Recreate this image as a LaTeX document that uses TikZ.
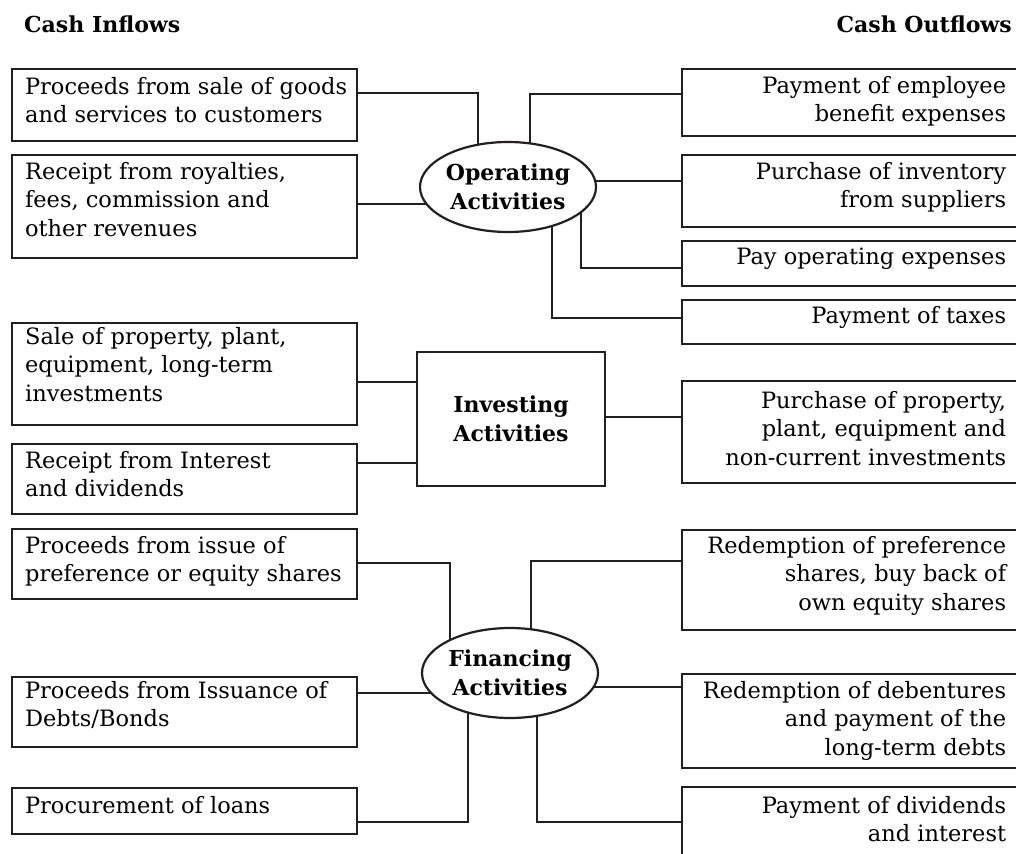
\documentclass[tikz,border=0pt]{standalone}
\usepackage{fontspec}
\setmainfont{DejaVu Serif}
\usetikzlibrary{shapes.geometric,backgrounds}
\definecolor{lc}{RGB}{35,31,32}
\newcommand\bodyfont{\fontsize{22.5pt}{28.5pt}\selectfont}
\newcommand\boldfont{\fontsize{22pt}{29pt}\selectfont\bfseries}
\newcommand\LT[1]{\parbox[t]{319pt}{\raggedright #1}}
\newcommand\RT[1]{\parbox[t]{311pt}{\raggedleft #1}}
\begin{document}
\begin{tikzpicture}[x=1pt,y=-1pt,
  box/.style={draw=lc, fill=white, rectangle, line width=2.2pt, inner xsep=13pt, inner ysep=0pt, font=\bodyfont, anchor=north west},
  hb/.style 2 args={text height=#1, text depth=#2},
  ell/.style={draw=lc, fill=white, ellipse, line width=2.2pt, minimum width=176pt, minimum height=90pt, inner sep=0pt, align=center, font=\boldfont},
  actbox/.style={draw=lc, fill=white, rectangle, line width=2.2pt, minimum width=188pt, minimum height=134pt, align=center, font=\boldfont},
  head/.style={font=\boldfont, inner sep=0pt},
  conn/.style={draw=lc, line width=2pt}
]
\useasboundingbox (0,0) rectangle (1016,853);
\clip (0,0) rectangle (1016,853);

% headers
\node[head, anchor=base west] (hin) at (24,33) {Cash Inflows};
\node[head, anchor=base east] (hout) at (1012,33) {Cash Outflows};

% left boxes
\node[box, hb={25pt}{47pt}] (l1) at (11,68) {\LT{\mbox{Proceeds from sale of goods}\\\mbox{and services to customers}}};
\node[box, hb={24pt}{79pt}] (l2) at (11,154) {\LT{\mbox{Receipt from royalties,}\\\mbox{fees, commission and}\\\mbox{other revenues}}};
\node[box, hb={21pt}{81pt}] (l4) at (11,322) {\LT{\mbox{Sale of property, plant,}\\\mbox{equipment, long-term}\\\mbox{investments}}};
\node[box, hb={24pt}{46pt}] (l5) at (11,443) {\LT{\mbox{Receipt from Interest}\\\mbox{and dividends}}};
\node[box, hb={24pt}{46pt}] (l6) at (11,528) {\LT{\mbox{Proceeds from issue of}\\\mbox{preference or equity shares}}};
\node[box, hb={21pt}{49pt}] (l7) at (11,676) {\LT{\mbox{Proceeds from Issuance of}\\\mbox{Debts/Bonds}}};
\node[box, hb={25pt}{21pt}] (l8) at (11,787) {\LT{\mbox{Procurement of loans}}};

% right boxes
\node[box, hb={24pt}{43pt}] (r1) at (681,68) {\RT{\mbox{Payment of employee}\\\mbox{benefit expenses}}};
\node[box, hb={24pt}{48pt}] (r2) at (681,154) {\RT{\mbox{Purchase of inventory}\\\mbox{from suppliers}}};
\node[box, hb={23pt}{22pt}] (r3) at (681,240) {\RT{\mbox{Pay operating expenses}}};
\node[box, hb={23pt}{21pt}] (r4) at (681,299) {\RT{\mbox{Payment of taxes}}};
\node[box, hb={27pt}{75pt}] (r5) at (681,380) {\RT{\mbox{Purchase of property,}\\\mbox{plant, equipment and}\\\mbox{non-current investments}}};
\node[box, hb={23pt}{77pt}] (r6) at (681,529) {\RT{\mbox{Redemption of preference}\\\mbox{shares, buy back of}\\\mbox{own equity shares}}};
\node[box, hb={24pt}{70pt}] (r7) at (681,673) {\RT{\mbox{Redemption of debentures}\\\mbox{and payment of the}\\\mbox{long-term debts}}};
\node[box, hb={26pt}{64pt}] (r8) at (681,786) {\RT{\mbox{Payment of dividends}\\\mbox{and interest}}};

% activity nodes
\node[ell] (op) at (508,187) {Operating\\Activities};
\node[actbox] (inv) at (511,419) {Investing\\Activities};
\node[ell] (fin) at (510,673) {Financing\\Activities};

\begin{pgfonlayer}{background}
\fill[white] (0,0) rectangle (1016,853);
% operating
\draw[conn] (l1.east |- 0,93) -| (op.center -| 478,0);
\draw[conn] (l2.east |- 0,204) -- (op.center |- 0,204);
\draw[conn] (r1.west |- 0,94) -| (op.center -| 530,0);
\draw[conn] (op.center |- 0,181) -- (r2.west |- 0,181);
\draw[conn] (op.center -| 581,0) |- (r3.west |- 0,268);
\draw[conn] (op.center -| 552,0) |- (r4.west |- 0,318);
% investing
\draw[conn] (l4.east |- 0,382) -- (inv.west |- 0,382);
\draw[conn] (l5.east |- 0,463) -- (inv.west |- 0,463);
\draw[conn] (inv.east |- 0,417) -- (r5.west |- 0,417);
% financing
\draw[conn] (l6.east |- 0,563) -| (fin.center -| 450,0);
\draw[conn] (l7.east |- 0,693) -- (fin.center |- 0,693);
\draw[conn] (l8.east |- 0,822) -| (fin.center -| 468,0);
\draw[conn] (r6.west |- 0,561) -| (fin.center -| 531,0);
\draw[conn] (fin.center |- 0,687) -- (r7.west |- 0,687);
\draw[conn] (fin.center -| 537,0) |- (r8.west |- 0,822);
\end{pgfonlayer}
\end{tikzpicture}
\end{document}
